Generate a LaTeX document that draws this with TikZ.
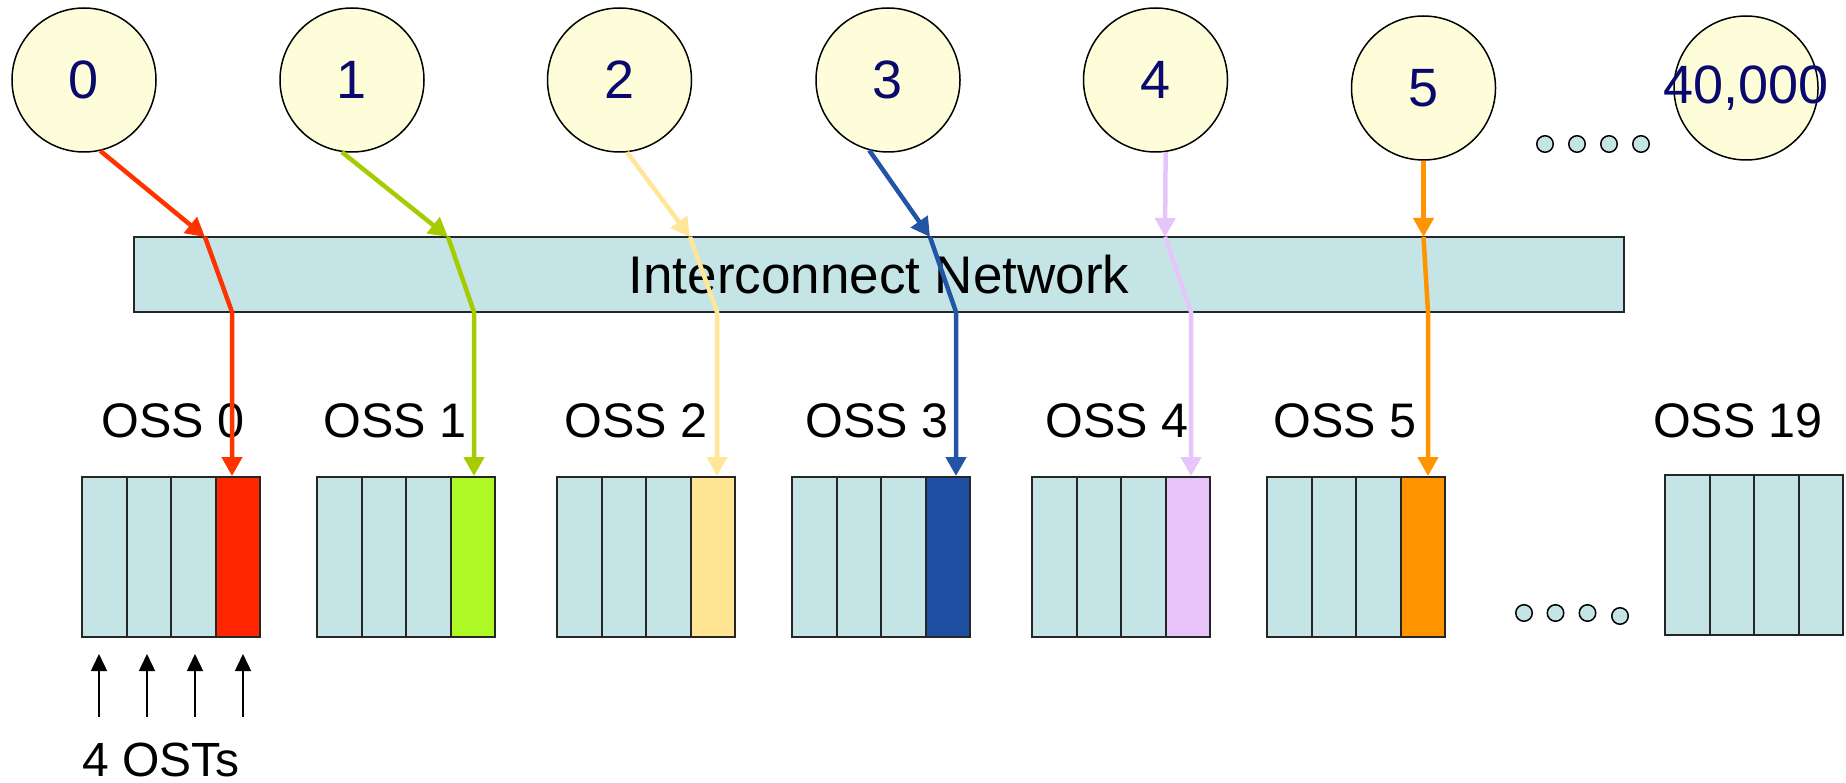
\documentclass[tikz,border=0pt]{standalone}
\usepackage{fontspec}
\setmainfont{Liberation Sans}
\usetikzlibrary{arrows.meta,positioning,calc}
\definecolor{nodefill}{HTML}{FDFED9}
\definecolor{netfill}{HTML}{C4E4E6}
\definecolor{numblue}{HTML}{0A0A6E}
\definecolor{wred}{HTML}{FF3300}
\definecolor{wgreen}{HTML}{A4CC00}
\definecolor{wyellow}{HTML}{FFE699}
\definecolor{wblue}{HTML}{2255A6}
\definecolor{wlilac}{HTML}{E6C6FA}
\definecolor{worange}{HTML}{FF9400}
\definecolor{fred}{HTML}{FF2600}
\definecolor{fgreen}{HTML}{AEF826}
\definecolor{fyellow}{HTML}{FFE592}
\definecolor{fblue}{HTML}{1F4FA3}
\definecolor{flilac}{HTML}{E8C3FA}
\definecolor{forange}{HTML}{FF9400}
\tikzset{
  proc/.style={circle, draw=black, line width=1.5pt, fill=nodefill, minimum size=144pt,
               inner sep=0pt, font=\fontsize{54}{60}\selectfont, text=numblue},
  numtxt/.style={inner sep=0pt, font=\fontsize{54}{60}\selectfont, text=numblue},
  net/.style={rectangle, draw=black!85, line width=2pt, fill=netfill, minimum width=1490pt,
              minimum height=75pt, font=\fontsize{53}{60}\selectfont},
  ost/.style={rectangle, draw=black!85, line width=2pt, fill=#1, minimum width=44.5pt,
              minimum height=160pt, inner sep=0pt},
  ost/.default=netfill,
  osslbl/.style={inner sep=0pt, font=\fontsize{48.5}{60}\selectfont},
  wire/.style={draw=#1, line width=4.5pt},
  wirearr/.style={wire=#1, -{Triangle[length=19pt,width=20pt]}},
  ostarr/.style={-{Triangle[length=17pt,width=16pt]}, line width=1.5pt, draw=black},
  dot/.style={circle, draw=black, line width=1.5pt, fill=netfill, minimum size=16.5pt, inner sep=0pt},
}
\begin{document}
\begin{tikzpicture}[x=1pt, y=-1pt]
  \useasboundingbox (0,0) rectangle (1846,783);
  \node[proc] (p0) at (84,80) {0};
  \node[proc] (p1) at (352,80) {1};
  \node[proc] (p2) at (619.5,80) {2};
  \node[proc] (p3) at (888,80) {3};
  \node[proc] (p4) at (1155.5,80) {4};
  \node[proc] (p5) at (1423.5,88) {5};
  \node[proc] (pn) at (1746,88) {};
  \node[numtxt] (pntxt) at (pn) {40,000};
  \foreach \x [count=\n] in {1545,1577,1609,1641}
    \node[dot] (d\n) at (\x,144) {};
  \node[net] (net) at (879,274.5) {Interconnect Network};
  \foreach \i/\x/\y/\lx/\col in {0/82/557/173/fred, 1/317/557/395/fgreen, 2/557/557/636/fyellow,
      3/792/557/877/fblue, 4/1032/557/1117/flilac, 5/1267/557/1345/forange, 19/1665/555/1738/netfill}{
    \foreach \k in {0,1,2}
      \node[ost] (s\i-\k) at (\x+22.25+44.5*\k,\y) {};
    \node[ost=\col] (s\i-3) at (\x+155.75,\y) {};
    \node[osslbl] (l\i) at (\lx,421) {OSS \i};
  }
  \foreach \x/\y [count=\n] in {1524/613, 1555.5/613, 1587.5/613, 1620/616}
    \node[dot] (e\n) at (\x,\y) {};
  \foreach \i/\a/\tx/\ux/\col in {0/-77/205/232/wred, 1/-98/448/474/wgreen, 2/-84/690/717/wyellow,
      3/-105/930/956/wblue, 4/-82/1165/1191/wlilac, 5/-90/1423.5/1428/worange}{
    \coordinate (t\i) at (\tx,237);
    \coordinate (u\i) at (\ux,312);
    \draw[wirearr=\col] (p\i.\a) -- (t\i);
    \draw[wirearr=\col] (t\i) -- (u\i) -- (u\i |- s\i-3.north);
  }
  \foreach \k/\ax in {0/99, 1/147, 2/195, 3/243}{
    \coordinate (f\k) at (\ax,717);
    \draw[ostarr, shorten >=16pt] (f\k) -- (f\k |- s0-\k.south);
  }
  \node[osslbl, font=\fontsize{48}{60}\selectfont] (osts) at (161,760) {4 OSTs};
\end{tikzpicture}
\end{document}
